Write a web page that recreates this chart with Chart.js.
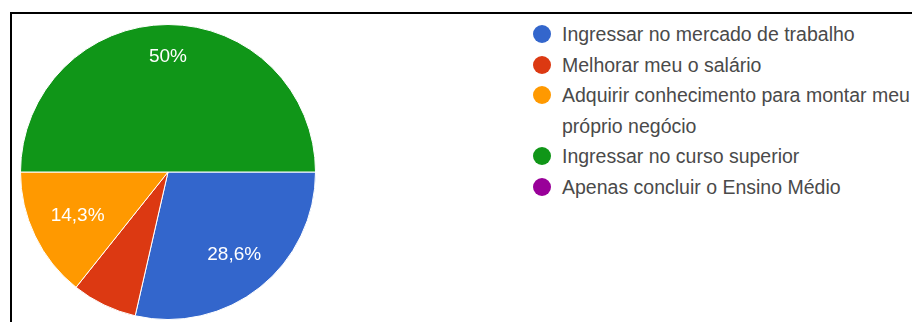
<!DOCTYPE html>
<html>
<head>
<meta charset="utf-8">
<script src="https://cdn.jsdelivr.net/npm/chart.js@4/dist/chart.umd.min.js"></script>
<style>
  body { margin: 0; background: #fff; width: 912px; height: 322px; overflow: hidden; position: relative;
         font-family: "Liberation Sans", Arial, sans-serif; }
  #frame { position: absolute; left: 10px; top: 12px; width: 940px; height: 340px;
           border-left: 2px solid #000; border-top: 2px solid #000; }
  #pieBox { position: absolute; left: 20px; top: 24px; width: 296px; height: 296px; }
  #legend { position: absolute; left: 533px; top: 19px; font-size: 19.5px; line-height: 30.5px;
            color: #4a4a4a; white-space: nowrap; }
  #legend .item { position: relative; padding-left: 29px; }
  #legend .dot { position: absolute; left: 0; top: 6px; width: 18px; height: 18px; border-radius: 50%; }
</style>
</head>
<body>
<div id="frame"></div>
<div id="pieBox"><canvas id="pie" width="296" height="296"></canvas></div>
<div id="legend"></div>
<script>
const labels = [
    'Ingressar no mercado de trabalho',
    'Melhorar meu o salário',
    ['Adquirir conhecimento para montar meu', 'próprio negócio'],
    'Ingressar no curso superior',
    'Apenas concluir o Ensino Médio'
];
const responses = [4, 1, 2, 7, 0];
const colors = ['#3366cc', '#dc3912', '#ff9900', '#109618', '#990099'];

const total = responses.reduce((a, b) => a + b, 0);

function pctText(share) {
    return Number((share * 100).toFixed(1)).toString().replace('.', ',') + '%';
}

// percentages drawn inside the bigger slices
const sliceLabels = {
    id: 'sliceLabels',
    afterDatasetsDraw(chart) {
        const ctx = chart.ctx;
        const meta = chart.getDatasetMeta(0);
        ctx.save();
        ctx.fillStyle = '#fff';
        ctx.font = '19px "Liberation Sans", Arial, sans-serif';
        ctx.textAlign = 'center';
        ctx.textBaseline = 'middle';
        meta.data.forEach((arc, i) => {
            const share = responses[i] / total;
            if (share < 0.1) return;
            const p = arc.getProps(['x', 'y', 'startAngle', 'endAngle', 'outerRadius'], true);
            const mid = (p.startAngle + p.endAngle) / 2;
            const r = p.outerRadius * (0.64 + 0.28 * share);
            ctx.fillText(pctText(share), p.x + Math.cos(mid) * r, p.y + Math.sin(mid) * r);
        });
        ctx.restore();
    }
};

const ctx = document.getElementById('pie');
const chart = new Chart(ctx, {
    type: 'pie',
    data: {
        labels: labels,
        datasets: [{
            data: responses,
            backgroundColor: colors,
            borderColor: '#fff',
            borderWidth: 1
        }]
    },
    options: {
        responsive: false,
        animation: false,
        rotation: 90,
        layout: { padding: 0 },
        plugins: {
            legend: { display: false }
        }
    },
    plugins: [sliceLabels]
});

// legend built from the same arrays
const legend = document.getElementById('legend');
labels.forEach((label, i) => {
    const item = document.createElement('div');
    item.className = 'item';
    const dot = document.createElement('span');
    dot.className = 'dot';
    dot.style.background = colors[i];
    item.appendChild(dot);
    const lines = Array.isArray(label) ? label : [label];
    lines.forEach((line, j) => {
        if (j > 0) item.appendChild(document.createElement('br'));
        item.appendChild(document.createTextNode(line));
    });
    legend.appendChild(item);
});
</script>
</body>
</html>
